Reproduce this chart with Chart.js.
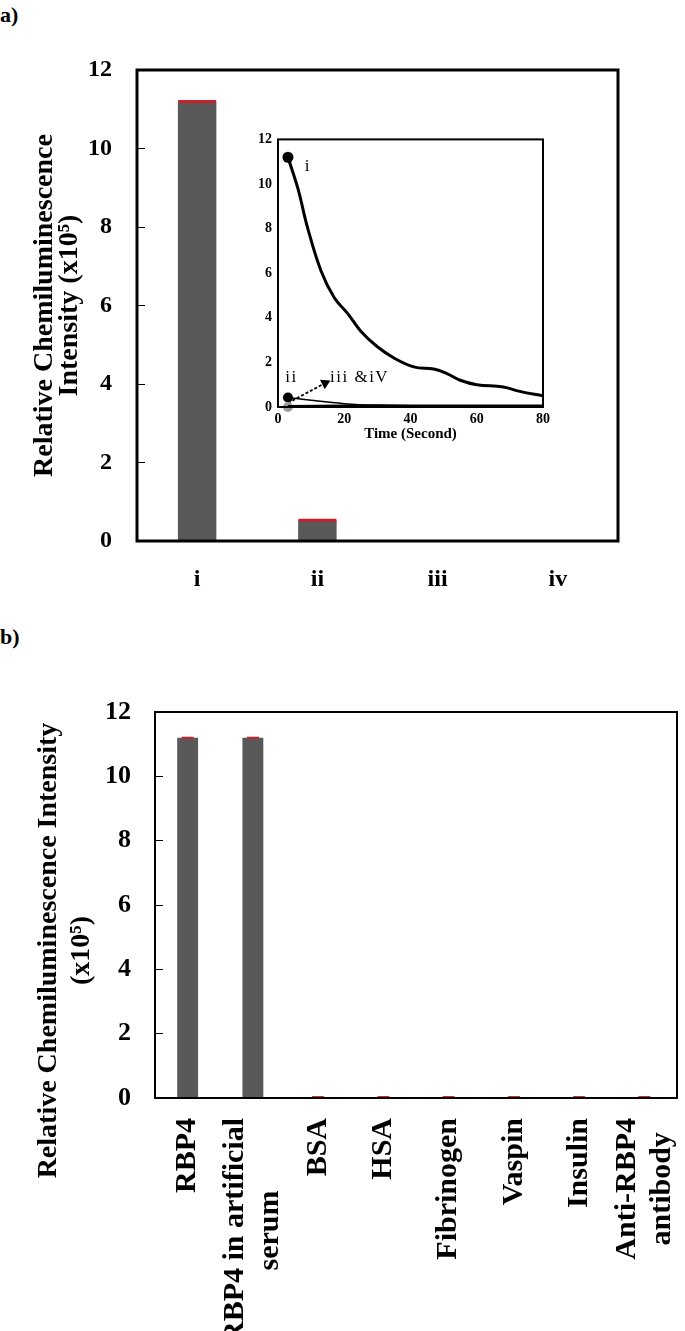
<!DOCTYPE html>
<html><head><meta charset="utf-8">
<script src="https://cdn.jsdelivr.net/npm/chart.js@4.4.1/dist/chart.umd.min.js"></script>
<style>
html,body{margin:0;padding:0;background:#fff;}
body{width:685px;height:1331px;position:relative;overflow:hidden;font-family:"Liberation Serif",serif;}
canvas{position:absolute;display:block;}
.lbl{position:absolute;left:0;font:bold 22px "Liberation Serif",serif;line-height:1;color:#000;}
</style></head><body>
<div class="lbl" style="top:4px">a)</div>
<div class="lbl" style="top:626px">b)</div>
<canvas id="cA" width="685" height="620" style="left:0;top:0"></canvas>
<canvas id="cIn" width="330" height="330" style="left:228px;top:125px"></canvas>
<canvas id="cB" width="685" height="711" style="left:0;top:620px"></canvas>
<script>
// ---------- data: panel a ----------
const samplesA = ["i", "ii", "iii", "iv"];
const intensityA = [11.2, 0.53, 0.02, 0.02];
const errTopA = [11.2, 0.53, null, null];

// ---------- data: inset (time course) ----------
const timeI  = [3, 6, 9, 13, 17, 21, 25, 30, 35, 41, 47, 51, 55, 60, 68, 73, 80];
const curveI = [11.2, 9.8, 8.0, 6.1, 4.9, 4.2, 3.4, 2.7, 2.2, 1.8, 1.7, 1.5, 1.2, 1.0, 0.9, 0.7, 0.5];
const timeII  = [3, 10, 20, 30, 40, 60, 80];
const curveII = [0.43, 0.3, 0.15, 0.07, 0.04, 0.02, 0.01];
const timeIII  = [3, 20, 40, 60, 80];
const curveIII = [0.0, 0.05, 0.05, 0.05, 0.05];
const timeIV  = [3, 20, 40, 60, 80];
const curveIV = [0.02, 0.05, 0.05, 0.05, 0.05];
const arrowT = [3, 14.2];
const arrowV = [0.18, 1.07];
const annoText = ["i", "ii", "iii &iV"];
const annoT = [9, 4.1, 15.7];
const annoV = [10.8, 1.34, 1.34];
const annoAlign = ["center", "center", "left"];

// ---------- data: panel b ----------
const samplesB = [["RBP4"], ["RBP4 in artificial", "serum"], ["BSA"], ["HSA"], ["Fibrinogen"], ["Vaspin"], ["Insulin"], ["Anti-RBP4", "antibody"]];
const intensityB = [11.2, 11.2, 0.01, 0.01, 0.01, 0.01, 0.01, 0.01];
const errTopB = [11.2, 11.2, 0.03, 0.03, 0.03, 0.03, 0.03, 0.03];

const BAR = '#595959';
const RED = '#c8202c';
const FAM = '"Liberation Serif", "Times New Roman", serif';
const PAD = '\u00A0'.repeat(13);
Chart.defaults.font.family = FAM;
Chart.defaults.color = '#000';

const framePlugin = {
  id: 'frame',
  afterDatasetsDraw(chart, args, opts) {
    const {ctx, chartArea: a} = chart;
    ctx.save();
    ctx.strokeStyle = '#000';
    ctx.lineWidth = opts.width || 2;
    ctx.strokeRect(a.left, a.top, a.right - a.left, a.bottom - a.top);
    ctx.restore();
  }
};

const annoPlugin = {
  id: 'anno',
  afterDatasetsDraw(chart) {
    const {ctx} = chart;
    const xs = chart.scales.x, ys = chart.scales.y;
    ctx.save();
    ctx.font = '17px ' + FAM;
    if ('letterSpacing' in ctx) ctx.letterSpacing = '1.5px';
    ctx.fillStyle = '#000';
    ctx.textBaseline = 'middle';
    annoText.forEach((t, i) => {
      ctx.textAlign = annoAlign[i];
      ctx.fillText(t, xs.getPixelForValue(annoT[i]), ys.getPixelForValue(annoV[i]));
    });
    ctx.restore();
  }
};

const rotLabels = {
  id: 'rotLabels',
  afterDraw(chart, args, opts) {
    const xs = chart.scales.x, ctx = chart.ctx;
    ctx.save();
    ctx.font = opts.font;
    ctx.fillStyle = '#000';
    ctx.textAlign = 'center';
    ctx.textBaseline = 'middle';
    chart.data.labels.forEach((lines, i) => {
      const x = xs.getPixelForTick(i);
      const maxW = Math.max(...lines.map(l => ctx.measureText(l).width));
      const yc = xs.top + opts.padding + maxW / 2;
      lines.forEach((l, j) => {
        const lx = x + (j - (lines.length - 1) / 2) * opts.lineHeight;
        ctx.save();
        ctx.translate(lx, yc);
        ctx.rotate(-Math.PI / 2);
        ctx.fillText(l, 0, 0);
        ctx.restore();
      });
    });
    ctx.restore();
  }
};

// ---------- panel a: bar chart ----------
new Chart(document.getElementById('cA'), {
  data: {
    labels: samplesA,
    datasets: [
      { type: 'bar', data: intensityA, backgroundColor: BAR, barPercentage: 1, categoryPercentage: 0.32, order: 2 },
      { type: 'line', data: errTopA, showLine: false, pointStyle: 'line', pointRadius: 19, borderColor: RED, borderWidth: 3, order: 1 }
    ]
  },
  options: {
    responsive: false, animation: false,
    layout: { padding: { left: 0, top: 70, right: 67, bottom: 0 } },
    plugins: { legend: { display: false }, tooltip: { enabled: false }, frame: { width: 3 } },
    scales: {
      x: {
        grid: { display: false, drawTicks: false }, border: { display: false },
        ticks: { font: { size: 24, weight: 'bold' }, padding: 24, color: '#000' },
        afterFit(s) { s.height = 79; }
      },
      y: {
        min: 0, max: 12,
        ticks: { stepSize: 2, font: { size: 24, weight: 'bold' }, padding: 33, color: '#000' },
        grid: { display: true, drawOnChartArea: false, drawTicks: true, tickLength: -8, color: '#000', lineWidth: 1 },
        border: { display: false },
        title: { display: true, text: ['Relative Chemiluminescence', 'Intensity (x10\u2075)'], font: { size: 28, weight: 'bold', lineHeight: 0.9 }, padding: { top: 32, bottom: 0 }, color: '#000' },
        afterFit(s) { s.width = 137; }
      }
    }
  },
  plugins: [framePlugin]
});

// ---------- inset: time course ----------
const pt = (t, v) => t.map((x, i) => ({ x: x, y: v[i] }));
new Chart(document.getElementById('cIn'), {
  type: 'line',
  data: {
    datasets: [
      { data: pt(timeIV, curveIV), borderColor: '#000', borderWidth: 3, tension: 0.4, pointRadius: 0, clip: false },
      { data: pt(timeIII, curveIII), borderColor: '#000', borderWidth: 2, tension: 0.4,
        pointRadius: c => c.dataIndex === 0 ? 5 : 0, pointBackgroundColor: '#9a9a9a', pointBorderColor: '#9a9a9a', pointBorderWidth: 0, clip: false },
      { data: pt(timeII, curveII), borderColor: '#000', borderWidth: 1.5, tension: 0.4,
        pointRadius: c => c.dataIndex === 0 ? 5 : 0, pointBackgroundColor: '#000', pointBorderColor: '#000', pointBorderWidth: 0, clip: false },
      { data: pt(timeI, curveI), borderColor: '#000', borderWidth: 3, tension: 0.4,
        pointRadius: c => c.dataIndex === 0 ? 5.5 : 0, pointBackgroundColor: '#000', pointBorderColor: '#000', pointBorderWidth: 0, clip: false },
      { data: pt(arrowT, arrowV), borderColor: '#000', borderWidth: 1.8, borderDash: [3, 2], tension: 0,
        pointStyle: 'triangle', pointRotation: 63, pointRadius: c => c.dataIndex === 1 ? 6 : 0,
        pointBackgroundColor: '#000', pointBorderColor: '#000', pointBorderWidth: 0, clip: false }
    ]
  },
  options: {
    responsive: false, animation: false,
    layout: { padding: { left: 0, top: 13, right: 15, bottom: 0 } },
    plugins: { legend: { display: false }, tooltip: { enabled: false }, frame: { width: 2 } },
    scales: {
      x: {
        type: 'linear', min: 0, max: 80,
        ticks: { stepSize: 20, font: { size: 14, weight: 'bold' }, padding: 4, color: '#000' },
        grid: { display: false, drawTicks: false }, border: { display: false },
        title: { display: true, text: 'Time (Second)', font: { size: 15, weight: 'bold' }, padding: { top: 0, bottom: 12 }, color: '#000' },
        afterFit(s) { s.height = 48; }
      },
      y: {
        min: 0, max: 12,
        ticks: { stepSize: 2, font: { size: 14, weight: 'bold' }, padding: 6, color: '#000' },
        grid: { display: false, drawTicks: false }, border: { display: false },
        afterFit(s) { s.width = 50; }
      }
    }
  },
  plugins: [framePlugin, annoPlugin]
});

// ---------- panel b: bar chart ----------
new Chart(document.getElementById('cB'), {
  data: {
    labels: samplesB,
    datasets: [
      { type: 'bar', data: intensityB, backgroundColor: BAR, barPercentage: 1, categoryPercentage: 0.32, order: 2 },
      { type: 'line', data: errTopB, showLine: false, pointStyle: 'line', pointRadius: 6, borderColor: RED, borderWidth: 2, order: 1, clip: false }
    ]
  },
  options: {
    responsive: false, animation: false,
    layout: { padding: { left: 0, top: 92, right: 2, bottom: 0 } },
    plugins: { legend: { display: false }, tooltip: { enabled: false }, frame: { width: 2 },
      rotLabels: { font: 'bold 30px ' + FAM, padding: 20, lineHeight: 35 } },
    scales: {
      x: {
        grid: { display: false, drawTicks: false }, border: { display: false },
        ticks: { display: false },
        afterFit(s) { s.height = 233; }
      },
      y: {
        min: 0, max: 12,
        ticks: { stepSize: 2, font: { size: 26, weight: 'bold' }, padding: 32, color: '#000' },
        grid: { display: true, drawOnChartArea: false, drawTicks: true, tickLength: -8, color: '#000', lineWidth: 1 },
        border: { display: false },
        title: { display: true, text: ['Relative Chemiluminescence Intensity' + PAD, '(x10\u2075)' + PAD], font: { size: 28, weight: 'bold', lineHeight: 1.18 }, padding: { top: 32, bottom: 0 }, color: '#000' },
        afterFit(s) { s.width = 155; }
      }
    }
  },
  plugins: [framePlugin, rotLabels]
});
</script>
</body></html>
